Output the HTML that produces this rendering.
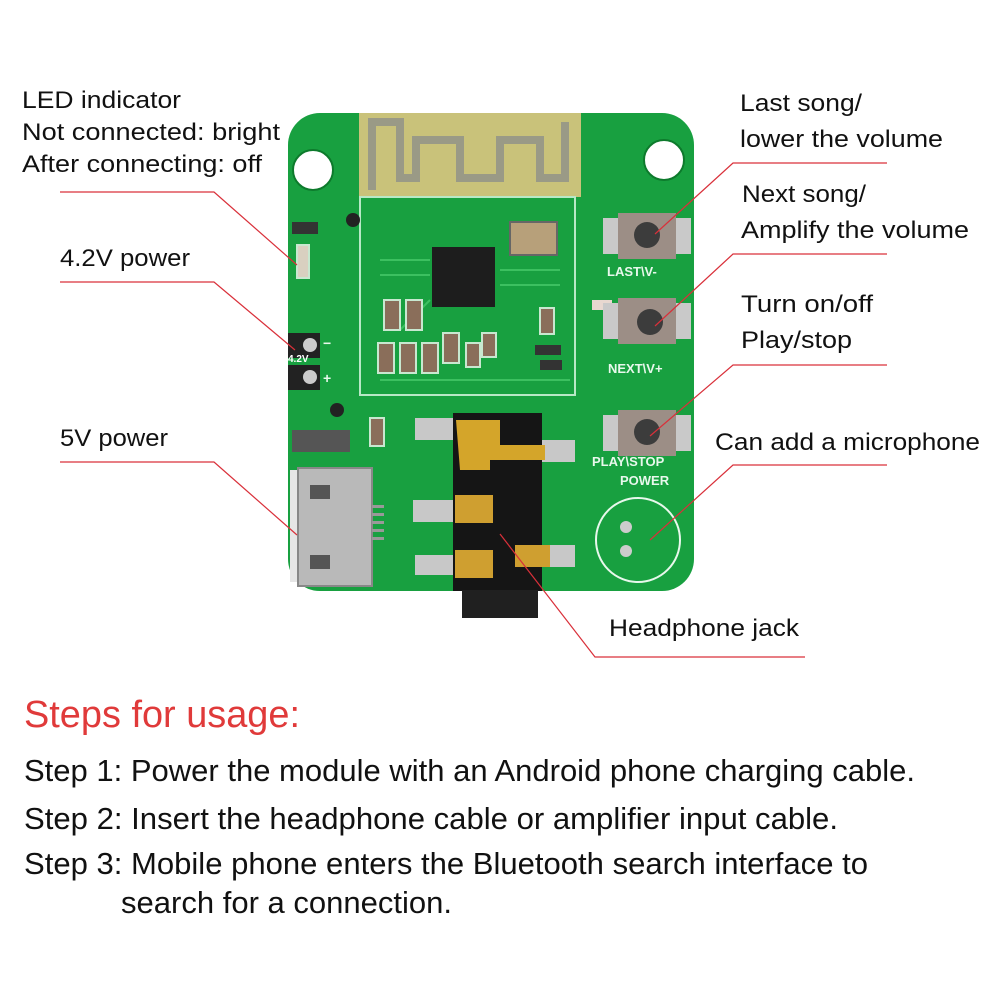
<!DOCTYPE html>
<html><head><meta charset="utf-8"><style>
html,body{margin:0;padding:0;background:#fff;}
svg{display:block}
.l{font-family:"Liberation Sans",sans-serif;font-size:24px;fill:#111;}
.s{font-family:"Liberation Sans Narrow","Liberation Sans",sans-serif;font-size:31px;fill:#111;}
</style></head><body>
<svg width="1000" height="1000" viewBox="0 0 1000 1000" xmlns="http://www.w3.org/2000/svg">
<rect width="1000" height="1000" fill="#fff"/>
<!-- PCB -->
<rect x="288" y="113" width="406" height="478" rx="32" fill="#18a040"/>
<rect x="359" y="113" width="222" height="84" fill="#c9c27a"/>
<path d="M372 190 V122 H400 V178 H416 V140 H460 V178 H500 V140 H540 V178 H565 V122" fill="none" stroke="#9a9a86" stroke-width="8"/>
<circle cx="313" cy="170" r="20" fill="#fff" stroke="#0d7a2c" stroke-width="2"/>
<circle cx="664" cy="160" r="20" fill="#fff" stroke="#0d7a2c" stroke-width="2"/>
<rect x="360" y="197" width="215" height="198" fill="none" stroke="#b8e8c6" stroke-width="2"/>
<path d="M380 260 H430 M380 275 H430 M500 270 H560 M500 285 H560 M400 330 L430 300 M380 380 H570" stroke="#3cc060" stroke-width="2" fill="none"/>
<rect x="432" y="247" width="63" height="60" fill="#1d1d1d"/>
<rect x="510" y="222" width="47" height="33" fill="#b7a07a" stroke="#666" stroke-width="2"/>
<g fill="#8a6e5a" stroke="#c8e8d0" stroke-width="2">
<rect x="384" y="300" width="16" height="30"/><rect x="406" y="300" width="16" height="30"/>
<rect x="378" y="343" width="16" height="30"/><rect x="400" y="343" width="16" height="30"/><rect x="422" y="343" width="16" height="30"/><rect x="443" y="333" width="16" height="30"/>
<rect x="466" y="343" width="14" height="24"/><rect x="482" y="333" width="14" height="24"/>
<rect x="540" y="308" width="14" height="26"/><rect x="370" y="418" width="14" height="28"/>
<rect x="297" y="245" width="12" height="33" fill="#d9d0c0"/>
</g>
<g fill="#333"><rect x="292" y="222" width="26" height="12"/><rect x="535" y="345" width="26" height="10"/><rect x="540" y="360" width="22" height="10"/><rect x="292" y="430" width="58" height="22" fill="#555"/></g>
<rect x="592" y="300" width="20" height="10" fill="#e8d8d0"/>
<rect x="288" y="333" width="32" height="25" fill="#222"/><circle cx="310" cy="345" r="7" fill="#ccc"/>
<rect x="288" y="365" width="32" height="25" fill="#222"/><circle cx="310" cy="377" r="7" fill="#ccc"/>
<text x="288" y="362" font-family="Liberation Sans" font-size="10" font-weight="bold" fill="#fff">4.2V</text>
<text x="323" y="348" font-family="Liberation Sans" font-size="14" font-weight="bold" fill="#e8f8ec">−</text>
<text x="323" y="383" font-family="Liberation Sans" font-size="14" font-weight="bold" fill="#e8f8ec">+</text>
<circle cx="337" cy="410" r="7" fill="#222"/><circle cx="353" cy="220" r="7" fill="#222"/>
<rect x="290" y="470" width="10" height="112" fill="#e6e6e6"/>
<rect x="298" y="468" width="74" height="118" fill="#b9b9b9" stroke="#888" stroke-width="2"/>
<rect x="310" y="485" width="20" height="14" fill="#555"/><rect x="310" y="555" width="20" height="14" fill="#555"/>
<g fill="#999"><rect x="372" y="505" width="12" height="3"/><rect x="372" y="513" width="12" height="3"/><rect x="372" y="521" width="12" height="3"/><rect x="372" y="529" width="12" height="3"/><rect x="372" y="537" width="12" height="3"/></g>
<g fill="#c8c8c8"><rect x="415" y="418" width="40" height="22"/><rect x="413" y="500" width="45" height="22"/><rect x="415" y="555" width="45" height="20"/><rect x="530" y="440" width="45" height="22"/><rect x="540" y="545" width="35" height="22"/></g>
<rect x="453" y="413" width="89" height="178" fill="#151515"/>
<rect x="462" y="590" width="76" height="28" fill="#202020"/>
<path d="M456 420 H500 V445 H545 V460 H490 V470 H460 Z" fill="#d4a52a"/>
<rect x="455" y="495" width="38" height="28" fill="#cf9f30"/><rect x="455" y="550" width="38" height="28" fill="#cf9f30"/><rect x="515" y="545" width="35" height="22" fill="#cf9f30"/>
<g>
<rect x="603" y="218" width="88" height="36" fill="#c9c9c9"/><rect x="618" y="213" width="58" height="46" fill="#9c8e86"/><circle cx="647" cy="235" r="13" fill="#3c3c3c"/>
<rect x="603" y="303" width="88" height="36" fill="#c9c9c9"/><rect x="618" y="298" width="58" height="46" fill="#9c8e86"/><circle cx="650" cy="322" r="13" fill="#3c3c3c"/>
<rect x="603" y="415" width="88" height="36" fill="#c9c9c9"/><rect x="618" y="410" width="58" height="46" fill="#9c8e86"/><circle cx="647" cy="432" r="13" fill="#3c3c3c"/>
</g>
<g font-family="Liberation Sans" font-weight="bold" font-size="13" fill="#e8f8ec">
<text x="607" y="276">LAST\V-</text><text x="608" y="373">NEXT\V+</text><text x="592" y="466">PLAY\STOP</text><text x="620" y="485">POWER</text></g>
<circle cx="638" cy="540" r="42" fill="none" stroke="#e8f8ec" stroke-width="2"/>
<circle cx="626" cy="527" r="6" fill="#ccc"/><circle cx="626" cy="551" r="6" fill="#ccc"/>
<g stroke="#d9303a" stroke-width="1.2" fill="none">
<polyline points="60,192 214,192 297,265"/>
<polyline points="60,282 214,282 295,350"/>
<polyline points="60,462 214,462 297,535"/>
<polyline points="887,163 733,163 655,234"/>
<polyline points="887,254 733,254 655,326"/>
<polyline points="887,365 733,365 650,436"/>
<polyline points="887,465 733,465 650,540"/>
<polyline points="805,657 595,657 500,534"/>
</g>
<g lengthAdjust="spacingAndGlyphs">
<text class="l" x="22" y="108" textLength="159" lengthAdjust="spacingAndGlyphs">LED indicator</text>
<text class="l" x="22" y="140" textLength="258" lengthAdjust="spacingAndGlyphs">Not connected: bright</text>
<text class="l" x="22" y="172" textLength="240" lengthAdjust="spacingAndGlyphs">After connecting: off</text>
<text class="l" x="60" y="266" textLength="130" lengthAdjust="spacingAndGlyphs">4.2V power</text>
<text class="l" x="60" y="446" textLength="108" lengthAdjust="spacingAndGlyphs">5V power</text>
<text class="l" x="740" y="111" textLength="122" lengthAdjust="spacingAndGlyphs">Last song/</text>
<text class="l" x="740" y="147" textLength="203" lengthAdjust="spacingAndGlyphs">lower the volume</text>
<text class="l" x="742" y="202" textLength="124" lengthAdjust="spacingAndGlyphs">Next song/</text>
<text class="l" x="741" y="238" textLength="228" lengthAdjust="spacingAndGlyphs">Amplify the volume</text>
<text class="l" x="741" y="312" textLength="132" lengthAdjust="spacingAndGlyphs">Turn on/off</text>
<text class="l" x="741" y="348" textLength="111" lengthAdjust="spacingAndGlyphs">Play/stop</text>
<text class="l" x="715" y="450" textLength="265" lengthAdjust="spacingAndGlyphs">Can add a microphone</text>
<text class="l" x="609" y="636" textLength="190" lengthAdjust="spacingAndGlyphs">Headphone jack</text>
<text x="24" y="727" font-family="Liberation Sans Narrow,Liberation Sans,sans-serif" font-size="38" fill="#e03a3a" textLength="276" lengthAdjust="spacingAndGlyphs">Steps for usage:</text>
<text class="s" x="24" y="781" textLength="891" lengthAdjust="spacingAndGlyphs">Step 1: Power the module with an Android phone charging cable.</text>
<text class="s" x="24" y="829" textLength="814" lengthAdjust="spacingAndGlyphs">Step 2: Insert the headphone cable or amplifier input cable.</text>
<text class="s" x="24" y="874" textLength="844" lengthAdjust="spacingAndGlyphs">Step 3: Mobile phone enters the Bluetooth search interface to</text>
<text class="s" x="121" y="913" textLength="331" lengthAdjust="spacingAndGlyphs">search for a connection.</text>
</g>
</svg>
</body></html>
